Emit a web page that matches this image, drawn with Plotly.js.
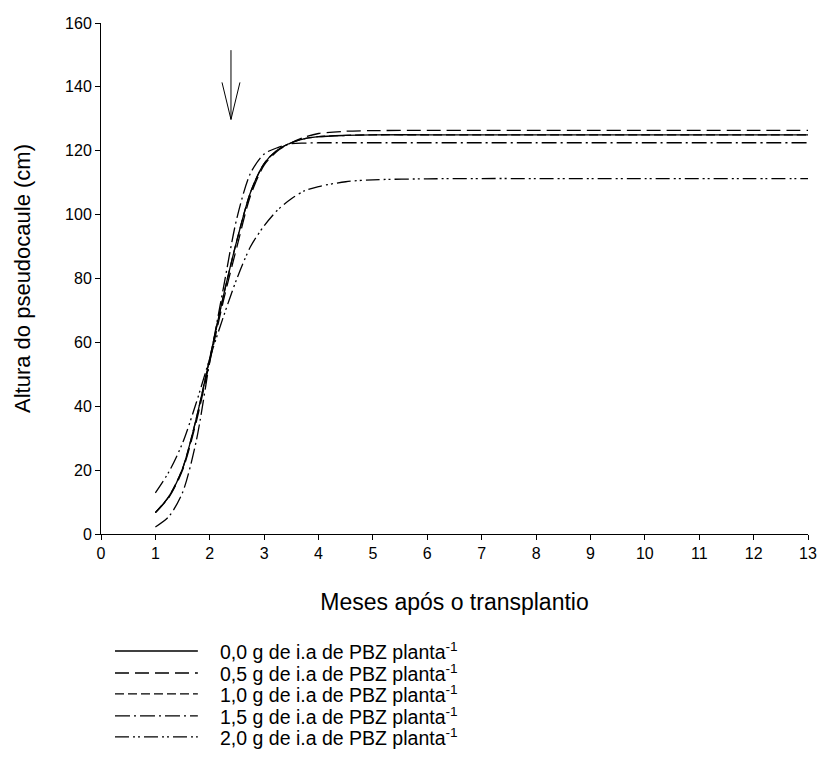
<!DOCTYPE html>
<html>
<head>
<meta charset="utf-8">
<script src="https://cdn.plot.ly/plotly-3.0.1.min.js"></script>
<style>
  html, body { margin: 0; padding: 0; background: #fff; }
  #chart { width: 818px; height: 771px; }
</style>
</head>
<body>
<div id="chart"></div>
<script>
// Months after transplanting
const months = [1, 1.25, 1.5, 1.75, 2, 2.25, 2.5, 2.75, 3, 3.25, 3.5, 3.75, 4, 4.5, 5, 6, 7, 8, 9, 10, 11, 12, 13];

// Pseudostem height (cm) per PBZ dose
const dose00 = [6.7, 11.8, 20.5, 36, 55, 74.5, 92, 107, 116, 120.3, 122.5, 123.8, 124.4, 124.8, 125, 125, 125, 125, 125, 125, 125, 125, 125];
const dose05 = [6.7, 11.5, 20, 35, 54, 73, 90, 106, 115.5, 120, 122.5, 124.3, 125.4, 126.1, 126.3, 126.4, 126.4, 126.4, 126.4, 126.4, 126.4, 126.4, 126.4];
const dose10 = [6.7, 11.8, 20.5, 36, 55, 74.5, 92, 107, 116, 120.3, 122.5, 123.8, 124.4, 124.8, 125, 125, 125, 125, 125, 125, 125, 125, 125];
const dose15 = [2.2, 5.5, 13, 29, 54, 77, 99, 113, 119, 121, 122.2, 122.4, 122.5, 122.5, 122.5, 122.5, 122.5, 122.5, 122.5, 122.5, 122.5, 122.5, 122.5];
const dose20 = [12.9, 19.5, 28.5, 41, 55, 68, 80, 90, 96.5, 101.5, 105, 107.5, 108.8, 110.3, 110.9, 111.2, 111.3, 111.3, 111.3, 111.3, 111.3, 111.3, 111.3];

const seriesNames = [
  "0,0 g de i.a de PBZ planta<sup>-1</sup>",
  "0,5 g de i.a de PBZ planta<sup>-1</sup>",
  "1,0 g de i.a de PBZ planta<sup>-1</sup>",
  "1,5 g de i.a de PBZ planta<sup>-1</sup>",
  "2,0 g de i.a de PBZ planta<sup>-1</sup>"
];
const seriesValues = [dose00, dose05, dose10, dose15, dose20];
const dashes = ["solid", "14px,6px", "9px,4px", "15px,4px,2px,4px", "14px,4px,2px,3px,2px,4px"];

// x ticks and y ticks
const xTicks = [0,1,2,3,4,5,6,7,8,9,10,11,12,13];
const yTicks = [0,20,40,60,80,100,120,140,160];

// Arrow marking the application month
const arrowX = 2.39;
const arrowTop = 151.5;
const arrowTip = 129.8;

const FONT = "Arial, 'Liberation Sans', sans-serif";

const traces = seriesValues.map((vals, i) => ({
  type: "scatter",
  mode: "lines",
  x: months,
  y: vals,
  name: seriesNames[i],
  line: { color: "#000", width: 1.3, dash: dashes[i], shape: "spline", smoothing: 0.8 },
  showlegend: false,
  hoverinfo: "skip"
}));

// custom legend (samples + labels)
const legendRowsY = [-0.229, -0.272, -0.313, -0.356, -0.397];
const shapes = [];
const annotations = [];
legendRowsY.forEach((yy, i) => {
  shapes.push({
    type: "line", xref: "paper", yref: "paper",
    x0: 0.0198, x1: 0.137, y0: yy, y1: yy,
    line: { color: "#000", width: 1.3, dash: dashes[i] }
  });
  annotations.push({
    xref: "paper", yref: "paper", x: 0.1655, y: yy,
    xanchor: "left", yanchor: "middle", showarrow: false,
    text: seriesNames[i],
    font: { family: FONT, size: 19.5, color: "#000" }
  });
});

// arrow (open V head)
const headDx = 0.165, headDy = 11.6;
shapes.push(
  { type: "line", xref: "x", yref: "y", x0: arrowX, x1: arrowX, y0: arrowTop, y1: arrowTip, line: { color: "#000", width: 1 } },
  { type: "line", xref: "x", yref: "y", x0: arrowX - headDx, x1: arrowX, y0: arrowTip + headDy, y1: arrowTip, line: { color: "#000", width: 1 } },
  { type: "line", xref: "x", yref: "y", x0: arrowX + headDx, x1: arrowX, y0: arrowTip + headDy, y1: arrowTip, line: { color: "#000", width: 1 } }
);

const layout = {
  width: 818, height: 771,
  margin: { l: 101, r: 10, t: 23, b: 237 },
  paper_bgcolor: "#fff", plot_bgcolor: "#fff",
  font: { family: FONT, size: 16, color: "#000" },
  showlegend: false,
  xaxis: {
    range: [0, 13], tickvals: xTicks, ticktext: xTicks.map(String),
    showgrid: false, zeroline: false, showline: true, linecolor: "#000", linewidth: 1,
    ticks: "outside", ticklen: 5, tickcolor: "#000", tickwidth: 1,
    tickfont: { family: FONT, size: 16, color: "#000" },
    title: { text: "Meses após o transplantio", font: { family: FONT, size: 23, color: "#000" }, standoff: 32 },
    fixedrange: true
  },
  yaxis: {
    range: [0, 160], tickvals: yTicks, ticktext: yTicks.map(String),
    showgrid: false, zeroline: false, showline: true, linecolor: "#000", linewidth: 1,
    ticks: "outside", ticklen: 5, tickcolor: "#000", tickwidth: 1,
    tickfont: { family: FONT, size: 16, color: "#000" },
    title: { text: "Altura do pseudocaule (cm)", font: { family: FONT, size: 22, color: "#000" }, standoff: 28 },
    fixedrange: true
  },
  shapes: shapes,
  annotations: annotations
};

Plotly.newPlot("chart", traces, layout, { displayModeBar: false, staticPlot: true });
</script>
</body>
</html>
